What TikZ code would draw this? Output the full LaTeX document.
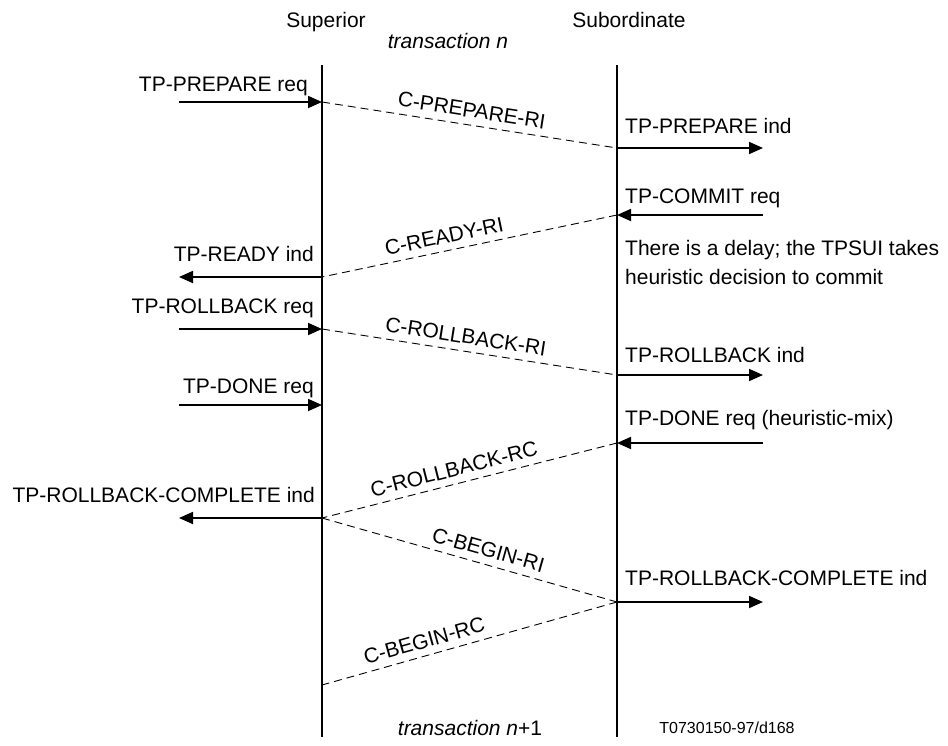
\documentclass[tikz,border=0pt]{standalone}
\usepackage{fontspec}
\setmainfont{Liberation Sans}
\usetikzlibrary{arrows.meta}
\begin{document}
\begin{tikzpicture}[x=1pt,y=-1pt,
  every node/.style={font=\fontsize{21}{28}\selectfont, inner sep=0pt},
  life/.style={line width=2pt},
  prim/.style={line width=1.8pt, -{Triangle[length=14pt,width=12pt]}},
  msg/.style={line width=0.9pt, dash pattern=on 8pt off 5pt},
  mlab/.style={sloped, above=7pt},
  llab/.style={anchor=base east},
  rlab/.style={anchor=base west}]
\useasboundingbox (0,0) rectangle (948,745);

% lifelines
\coordinate (supT) at (322,65);
\coordinate (supB) at (322,737);
\coordinate (subT) at (617,65);
\coordinate (subB) at (617,737);
\draw[life] (supT) -- (supB);
\draw[life] (subT) -- (subB);

% headers
\node[anchor=base] (hsup) at (326,27) {Superior};
\node[anchor=base] (hsub) at (629,27) {Subordinate};
\node[anchor=base] (tn) at (448,48) {\textit{transaction n}};
\node[anchor=base] (tn1) at (470,735) {\textit{transaction n}+1};
\node[anchor=base, font=\fontsize{16}{18}\selectfont] (fig) at (727,733) {T0730150-97/d168};

% points on lifelines
\coordinate (s1) at (322,102);
\coordinate (b1) at (617,148);
\coordinate (b2) at (617,215);
\coordinate (s2) at (322,277);
\coordinate (s3) at (322,329);
\coordinate (b3) at (617,375);
\coordinate (s4) at (322,405);
\coordinate (b4) at (617,443);
\coordinate (s5) at (322,518);
\coordinate (b5) at (617,602);
\coordinate (s6) at (322,685);

% outer ends
\coordinate (l1) at (179,102);
\coordinate (r1) at (763,148);
\coordinate (r2) at (763,215);
\coordinate (l2) at (179,277);
\coordinate (l3) at (179,329);
\coordinate (r3) at (763,375);
\coordinate (l4) at (179,405);
\coordinate (r4) at (763,443);
\coordinate (l5) at (179,518);
\coordinate (r5) at (763,602);

% primitives
\draw[prim] (l1) -- (s1);
\draw[prim] (b1) -- (r1);
\draw[prim] (r2) -- (b2);
\draw[prim] (s2) -- (l2);
\draw[prim] (l3) -- (s3);
\draw[prim] (b3) -- (r3);
\draw[prim] (l4) -- (s4);
\draw[prim] (r4) -- (b4);
\draw[prim] (s5) -- (l5);
\draw[prim] (b5) -- (r5);

% primitive labels
\node[llab] (t1) at (308,91) {TP-PREPARE req};
\node[rlab] (t2) at (625,133) {TP-PREPARE ind};
\node[rlab] (t3) at (625,203) {TP-COMMIT req};
\node[llab] (t4) at (314,261) {TP-READY ind};
\node[rlab] (t5) at (625,255) {There is a delay; the TPSUI takes};
\node[rlab] (t5b) at (625,284) {heuristic decision to commit};
\node[llab] (t6) at (314,313) {TP-ROLLBACK req};
\node[rlab] (t7) at (625,362) {TP-ROLLBACK ind};
\node[llab] (t8) at (314,393) {TP-DONE req};
\node[rlab] (t9) at (625,425) {TP-DONE req (heuristic-mix)};
\node[llab] (t10) at (315,502) {TP-ROLLBACK-COMPLETE ind};
\node[rlab] (t11) at (625,585) {TP-ROLLBACK-COMPLETE ind};

% protocol messages
\draw[msg] (s1) -- node[mlab, pos=0.50] {C-PREPARE-RI} (b1);
\draw[msg] (b2) -- node[mlab, pos=0.576] {C-READY-RI} (s2);
\draw[msg] (s3) -- node[mlab, pos=0.48] {C-ROLLBACK-RI} (b3);
\draw[msg] (b4) -- node[mlab, pos=0.54] {C-ROLLBACK-RC} (s5);
\draw[msg] (s5) -- node[mlab, pos=0.55] {C-BEGIN-RI} (b5);
\draw[msg] (b5) -- node[mlab, pos=0.64] {C-BEGIN-RC} (s6);
\end{tikzpicture}
\end{document}
